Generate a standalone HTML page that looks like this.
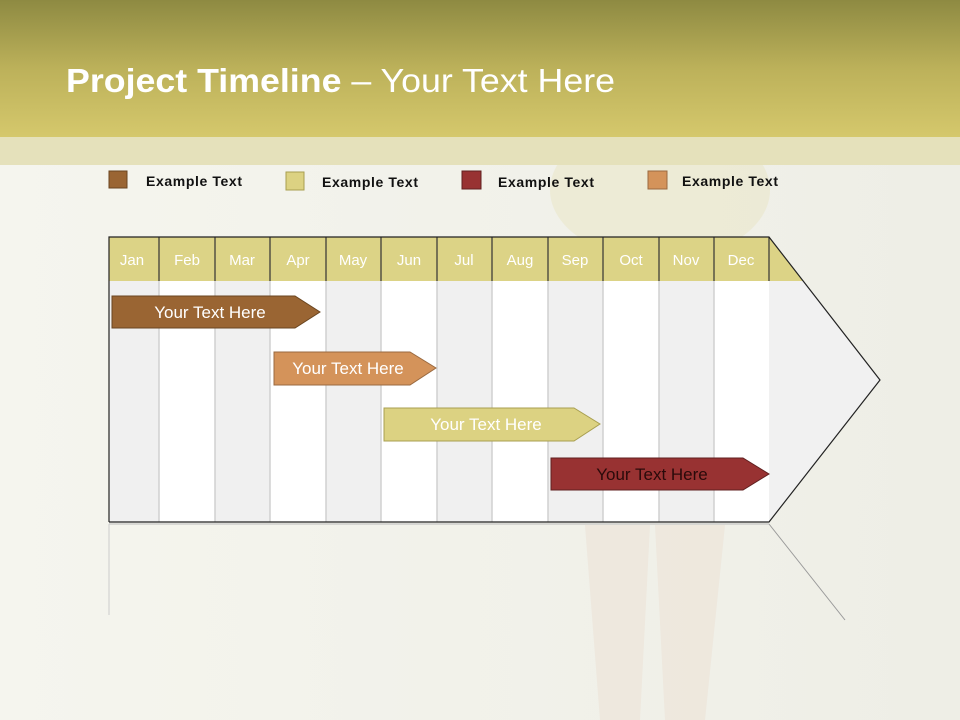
<!DOCTYPE html>
<html><head><meta charset="utf-8"><style>
body{margin:0;width:960px;height:720px;overflow:hidden;background:#f3f3ec;font-family:"Liberation Sans",sans-serif}
</style></head><body>
<svg width="960" height="720" xmlns="http://www.w3.org/2000/svg" style="display:block">
<defs>
<linearGradient id="hd" x1="0" y1="0" x2="0" y2="1"><stop offset="0" stop-color="#8e8a42"/><stop offset="0.5" stop-color="#bcb15a"/><stop offset="1" stop-color="#d5c86c"/></linearGradient>
<linearGradient id="bg" x1="0" y1="0" x2="1" y2="0"><stop offset="0" stop-color="#f5f5ee"/><stop offset="1" stop-color="#eeeee6"/></linearGradient>
</defs>
<rect width="960" height="720" fill="url(#bg)"/>
<ellipse cx="660" cy="190" rx="110" ry="70" fill="#e9e6c4" opacity="0.5"/>
<path d="M585 525 L600 720 L640 720 L650 525 Z" fill="#ece4d8" opacity="0.7"/>
<path d="M655 525 L665 720 L705 720 L725 525 Z" fill="#ece4d8" opacity="0.7"/>
<rect x="0" y="0" width="960" height="137" fill="url(#hd)"/>
<rect x="0" y="137" width="960" height="28" fill="#e5e1bb"/>
<text x="66" y="92" font-size="33" fill="#fff" textLength="549" lengthAdjust="spacingAndGlyphs"><tspan font-weight="bold">Project Timeline</tspan> – Your Text Here</text>
<g font-size="14" font-weight="bold" fill="#111">
<rect x="109" y="171" width="18" height="17" fill="#9a6533" stroke="#6a4520"/><text x="146" y="186" textLength="96">Example Text</text>
<rect x="286" y="172" width="18" height="18" fill="#dcd282" stroke="#a89f50"/><text x="322" y="187" textLength="96">Example Text</text>
<rect x="462" y="171" width="19" height="18" fill="#983232" stroke="#602020"/><text x="498" y="187" textLength="96">Example Text</text>
<rect x="648" y="171" width="19" height="18" fill="#d4935a" stroke="#9a6a40"/><text x="682" y="186" textLength="96">Example Text</text>
</g>
<polygon points="769,237 880,380 769,522" fill="#f1f1f1"/>
<polygon points="769,237 803,281 769,281" fill="#dcd386"/>
<rect x="109" y="281" width="50" height="241" fill="#f0f0f0"/>
<rect x="159" y="281" width="56" height="241" fill="#fff"/>
<rect x="215" y="281" width="55" height="241" fill="#f0f0f0"/>
<rect x="270" y="281" width="56" height="241" fill="#fff"/>
<rect x="326" y="281" width="55" height="241" fill="#f0f0f0"/>
<rect x="381" y="281" width="56" height="241" fill="#fff"/>
<rect x="437" y="281" width="55" height="241" fill="#f0f0f0"/>
<rect x="492" y="281" width="56" height="241" fill="#fff"/>
<rect x="548" y="281" width="55" height="241" fill="#f0f0f0"/>
<rect x="603" y="281" width="56" height="241" fill="#fff"/>
<rect x="659" y="281" width="55" height="241" fill="#f0f0f0"/>
<rect x="714" y="281" width="55" height="241" fill="#fff"/>
<rect x="109" y="237" width="660" height="44" fill="#dcd386"/>
<g stroke="#d0d0d0" stroke-width="1.5">
<line x1="159" y1="281" x2="159" y2="522"/><line x1="215" y1="281" x2="215" y2="522"/><line x1="270" y1="281" x2="270" y2="522"/><line x1="326" y1="281" x2="326" y2="522"/><line x1="381" y1="281" x2="381" y2="522"/><line x1="437" y1="281" x2="437" y2="522"/><line x1="492" y1="281" x2="492" y2="522"/><line x1="548" y1="281" x2="548" y2="522"/><line x1="603" y1="281" x2="603" y2="522"/><line x1="659" y1="281" x2="659" y2="522"/><line x1="714" y1="281" x2="714" y2="522"/>
</g>
<g stroke="#333" stroke-width="1.2">
<line x1="159" y1="237" x2="159" y2="281"/><line x1="215" y1="237" x2="215" y2="281"/><line x1="270" y1="237" x2="270" y2="281"/><line x1="326" y1="237" x2="326" y2="281"/><line x1="381" y1="237" x2="381" y2="281"/><line x1="437" y1="237" x2="437" y2="281"/><line x1="492" y1="237" x2="492" y2="281"/><line x1="548" y1="237" x2="548" y2="281"/><line x1="603" y1="237" x2="603" y2="281"/><line x1="659" y1="237" x2="659" y2="281"/><line x1="714" y1="237" x2="714" y2="281"/><line x1="769" y1="237" x2="769" y2="281"/>
</g>
<polyline points="109,522 109,237 769,237 880,380 769,522 109,522" fill="none" stroke="#222" stroke-width="1.2"/>
<line x1="109" y1="524" x2="769" y2="524" stroke="#bbb"/>
<line x1="109" y1="524" x2="109" y2="615" stroke="#ccc"/>
<line x1="769" y1="524" x2="845" y2="620" stroke="#999"/>
<g font-size="15" fill="#fff" text-anchor="middle">
<text x="132" y="265">Jan</text><text x="187" y="265">Feb</text><text x="242" y="265">Mar</text><text x="298" y="265">Apr</text><text x="353" y="265">May</text><text x="409" y="265">Jun</text><text x="464" y="265">Jul</text><text x="520" y="265">Aug</text><text x="575" y="265">Sep</text><text x="631" y="265">Oct</text><text x="686" y="265">Nov</text><text x="741" y="265">Dec</text>
</g>
<polygon points="112,296 295,296 320,312 295,328 112,328" fill="#9a6533" stroke="#6a4520"/>
<polygon points="274,352 410,352 436,368 410,385 274,385" fill="#d4935a" stroke="#9a6a40"/>
<polygon points="384,408 574,408 600,424 574,441 384,441" fill="#dcd282" stroke="#a89f50"/>
<polygon points="551,458 743,458 769,474 743,490 551,490" fill="#983232" stroke="#602020"/>
<g font-size="17" text-anchor="middle">
<text x="210" y="318" fill="#fff">Your  Text Here</text>
<text x="348" y="374" fill="#fff">Your  Text Here</text>
<text x="486" y="430" fill="#fff">Your  Text Here</text>
<text x="652" y="480" fill="#2a0a0a">Your  Text Here</text>
</g>
</svg>
</body></html>
